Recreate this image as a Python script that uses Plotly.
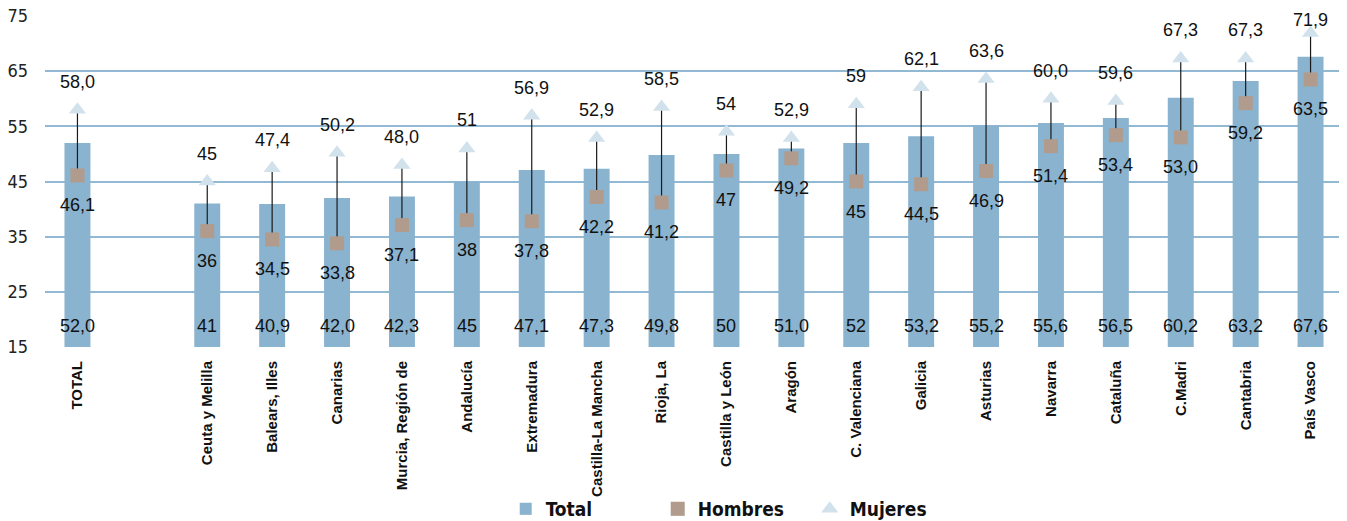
import plotly.graph_objects as go

categories = ["<b>TOTAL</b>", " ", "Ceuta y Melilla", "Balears, Illes", "Canarias", "Murcia, Región de",
              "Andalucía", "Extremadura", "Castilla-La Mancha", "Rioja, La", "Castilla y León",
              "Aragón", "C. Valenciana", "Galicia", "Asturias", "Navarra", "Cataluña",
              "<b>C.Madri</b>", "Cantabria", "País Vasco"]

total = [52.0, None, 41, 40.9, 42.0, 42.3, 45, 47.1, 47.3, 49.8, 50, 51.0, 52, 53.2, 55.2, 55.6, 56.5, 60.2, 63.2, 67.6]
hombres = [46.1, None, 36, 34.5, 33.8, 37.1, 38, 37.8, 42.2, 41.2, 47, 49.2, 45, 44.5, 46.9, 51.4, 53.4, 53.0, 59.2, 63.5]
mujeres = [58.0, None, 45, 47.4, 50.2, 48.0, 51, 56.9, 52.9, 58.5, 54, 52.9, 59, 62.1, 63.6, 60.0, 59.6, 67.3, 67.3, 71.9]

total_text = ["52,0", "", "41", "40,9", "42,0", "42,3", "45", "47,1", "47,3", "49,8", "50", "51,0", "52",
              "53,2", "55,2", "55,6", "56,5", "60,2", "63,2", "67,6"]
hombres_text = ["46,1", "", "36", "34,5", "33,8", "37,1", "38", "37,8", "42,2", "41,2", "47", "49,2", "45",
                "44,5", "46,9", "51,4", "53,4", "53,0", "59,2", "63,5"]
mujeres_text = ["58,0", "", "45", "47,4", "50,2", "48,0", "51", "56,9", "52,9", "58,5", "54", "52,9", "59",
                "62,1", "63,6", "60,0", "59,6", "67,3", "67,3", "71,9"]

y_ticks = [15, 25, 35, 45, 55, 65, 75]
Y_MIN, Y_MAX = 15, 75

# figure geometry (page has an 8px body margin)
FIG_W, FIG_H = 1339, 513
M_L, M_R, M_T, M_B = 37, 4, 8, 174
PX_PER_UNIT = (FIG_H - M_T - M_B) / (Y_MAX - Y_MIN)

LBL_FONT = "Liberation Sans, Arial, sans-serif"
NARROW = "DejaVu Sans Condensed, Liberation Sans Narrow, Liberation Sans, sans-serif"
BAR_C = "#8ab3cf"
GRID_C = "#92b9d4"
H_C = "#b09b8d"
M_C = "#d2e2ed"

fig = go.Figure()

fig.add_trace(go.Bar(x=categories, y=total, name="Total", marker=dict(color=BAR_C, line=dict(width=0)),
                     hoverinfo="x+y"))

# connecting lines hombres -> mujeres
lx, ly = [], []
for c, h, m in zip(categories, hombres, mujeres):
    if h is None or m is None:
        continue
    lx += [c, c, None]
    ly += [h, m, None]
fig.add_trace(go.Scatter(x=lx, y=ly, mode="lines", line=dict(color="#1a1a1a", width=1.2),
                         showlegend=False, hoverinfo="skip"))

fig.add_trace(go.Scatter(x=categories, y=hombres, name="Hombres", mode="markers",
                         marker=dict(symbol="square", size=14, color=H_C), cliponaxis=False))
fig.add_trace(go.Scatter(x=categories, y=mujeres, name="Mujeres", mode="markers",
                         marker=dict(symbol="triangle-up", size=15, color=M_C), cliponaxis=False))

lab_font = dict(family=LBL_FONT, size=18, color="#111")
for c, t in zip(categories, total_text):
    if t:
        fig.add_annotation(x=c, y=Y_MIN, text=t, showarrow=False, yanchor="bottom", yshift=9, font=lab_font)
for c, v, t in zip(categories, hombres, hombres_text):
    if t:
        fig.add_annotation(x=c, y=v, text=t, showarrow=False, yanchor="middle", yshift=-30, font=lab_font)
for c, v, t in zip(categories, mujeres, mujeres_text):
    if t:
        shift = min(28, (Y_MAX - v) * PX_PER_UNIT - 4.5)
        fig.add_annotation(x=c, y=v, text=t, showarrow=False, yanchor="middle", yshift=shift, font=lab_font)

fig.update_layout(
    width=FIG_W, height=FIG_H,
    margin=dict(l=M_L, r=M_R, t=M_T, b=M_B, autoexpand=False),
    paper_bgcolor="white", plot_bgcolor="white",
    bargap=0.6,
    showlegend=True,
    legend=dict(orientation="h", x=0.5306, xanchor="center", yref="container", y=0.0234, yanchor="middle",
                font=dict(family=NARROW, size=19, color="#111", weight="bold"),
                entrywidth=107, bgcolor="rgba(0,0,0,0)"),
    xaxis=dict(type="category", tickangle=-90, showgrid=False, showline=False, ticks="", automargin=False,
               range=[-0.5, len(categories) - 0.5],
               tickfont=dict(family=LBL_FONT, size=15, color="#111", weight="bold"),
               ticklabelstandoff=10),
    yaxis=dict(range=[Y_MIN, Y_MAX], tickvals=y_ticks, showgrid=True, gridcolor=GRID_C, gridwidth=2,
               zeroline=False, showline=False, ticks="", automargin=False, ticklabeloverflow="allow",
               tickfont=dict(family=NARROW, size=18, color="#222"), ticklabelstandoff=16),
)

fig.write_html("out.html")
